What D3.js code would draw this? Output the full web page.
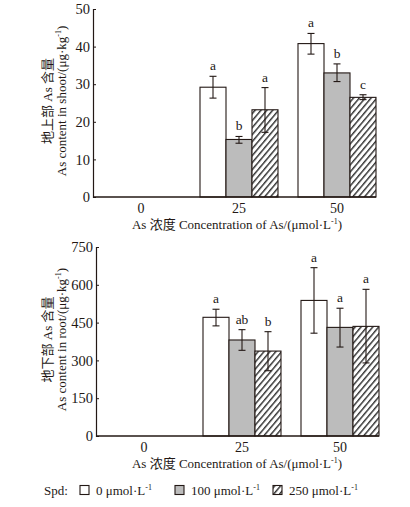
<!DOCTYPE html>
<html><head><meta charset="utf-8">
<script src="https://cdn.jsdelivr.net/npm/d3@7"></script>
<style>
body{margin:0;background:#fff;}
text{font-family:"Liberation Serif","Times New Roman","Noto Sans CJK SC",serif;fill:#231815;}
</style></head>
<body><svg id="c" width="410" height="507"></svg>
<script>
const categories = ["0","25","50"];
const seriesNames = ["0 μmol·L⁻¹","100 μmol·L⁻¹","250 μmol·L⁻¹"];
// shoot (top panel)
const shootVals = [[0,0,0],[29.2,15.3,23.2],[40.8,33.0,26.5]];
const shootErrLo = [[0,0,0],[26.3,14.3,17.2],[38.0,30.7,25.9]];
const shootErrHi = [[0,0,0],[32.1,16.1,29.1],[43.5,35.4,27.2]];
const shootLetters = [["","",""],["a","b","a"],["a","b","c"]];
const shootTicks = [0,10,20,30,40,50];
// root (bottom panel)
const rootVals = [[0,0,0],[471,381,337],[538,431,435]];
const rootErrLo = [[0,0,0],[437,340,259],[408,353,290]];
const rootErrHi = [[0,0,0],[503,422,414],[668,507,582]];
const rootLetters = [["","",""],["a","ab","b"],["a","a","a"]];
const rootTicks = [0,150,300,450,600,750];

const svg = d3.select("#c");
const defs = svg.append("defs");
const pat = defs.append("pattern").attr("id","hatch").attr("patternUnits","userSpaceOnUse")
  .attr("width",4.5).attr("height",4.5).attr("patternTransform","rotate(40)");
pat.append("rect").attr("width",4.5).attr("height",4.5).attr("fill","#fff");
pat.append("line").attr("x1",0.75).attr("y1",-1).attr("x2",0.75).attr("y2",6).attr("stroke","#1a1a1a").attr("stroke-width",1.3);

const fills = ["#ffffff","#bcbcbc","url(#hatch)"];

function panel(o){
  const g = svg.append("g");
  const y = d3.scaleLinear().domain([0,o.ticks[o.ticks.length-1]]).range([o.y0,o.y1]);
  const x = d3.scaleBand().domain(categories).range([o.x0+9,o.x1]).paddingInner(20/98).paddingOuter(0);
  const xs = d3.scaleBand().domain(d3.range(3)).range([0,x.bandwidth()]);
  // bars
  categories.forEach((c,i)=>{
    d3.range(3).forEach(j=>{
      const v=o.vals[i][j];
      if(v<=0) return;
      const bx=x(c)+xs(j), bw=xs.bandwidth();
      g.append("rect").attr("x",bx).attr("y",y(v)).attr("width",bw).attr("height",y(0)-y(v))
        .attr("fill",fills[j]).attr("stroke","#231815").attr("stroke-width",1.1);
      const cx=bx+bw/2;
      g.append("line").attr("x1",cx).attr("x2",cx).attr("y1",y(o.lo[i][j])).attr("y2",y(o.hi[i][j])).attr("stroke","#231815").attr("stroke-width",1.1);
      [o.lo[i][j],o.hi[i][j]].forEach(e=>g.append("line").attr("x1",cx-3.5).attr("x2",cx+3.5).attr("y1",y(e)).attr("y2",y(e)).attr("stroke","#231815").attr("stroke-width",1.1));
      g.append("text").attr("x",cx).attr("y",y(o.hi[i][j])-6).attr("text-anchor","middle").attr("font-size",13.5).text(o.letters[i][j]);
    });
  });
  // y axis
  const ya = d3.axisLeft(y).tickValues(o.ticks).tickSize(-3).tickPadding(3);
  const yg = g.append("g").attr("transform",`translate(${o.x0},0)`).call(ya);
  yg.select(".domain").attr("stroke","#231815").attr("stroke-width",1.2);
  yg.selectAll("line").attr("stroke","#231815");
  yg.selectAll("text").attr("font-size",14.5).attr("fill","#231815").style("font-family","Liberation Serif,serif");
  // x axis
  g.append("line").attr("x1",o.x0).attr("x2",o.x1).attr("y1",y(0)).attr("y2",y(0)).attr("stroke","#231815").attr("stroke-width",1.3);
  categories.forEach(c=>g.append("text").attr("x",x(c)+x.bandwidth()/2).attr("y",y(0)+16).attr("text-anchor","middle").attr("font-size",14).text(c));
  // x title
  const xt = g.append("text").attr("x",237).attr("y",y(0)+32).attr("text-anchor","middle").attr("font-size",13);
  xt.append("tspan").text("As 浓度 Concentration of As/(μmol·L");
  xt.append("tspan").attr("dy",-5).attr("font-size",8).text("-1");
  xt.append("tspan").attr("dy",5).text(")");
  // y title
  const cy=(o.y0+o.y1)/2-2;
  g.append("text").attr("transform",`translate(52,${cy}) rotate(-90)`).attr("text-anchor","middle").attr("font-size",13).text(o.cn);
  const et = g.append("text").attr("transform",`translate(66,${cy}) rotate(-90)`).attr("text-anchor","middle").attr("font-size",13);
  et.append("tspan").text(o.en);
  et.append("tspan").attr("dy",-5).attr("font-size",8).text("-1");
  et.append("tspan").attr("dy",5).text(")");
}

panel({x0:93,x1:376,y0:197,y1:9,ticks:shootTicks,vals:shootVals,lo:shootErrLo,hi:shootErrHi,letters:shootLetters,
  cn:"地上部 As 含量",en:"As content in shoot/(μg·kg"});
panel({x0:96,x1:379,y0:436,y1:247,ticks:rootTicks,vals:rootVals,lo:rootErrLo,hi:rootErrHi,letters:rootLetters,
  cn:"地下部 As 含量",en:"As content in root/(μg·kg"});

// legend
const lg = svg.append("g");
const ly = 490;
lg.append("text").attr("x",44).attr("y",ly+4.5).attr("font-size",13).text("Spd:");
const lx = [80,175,273];
seriesNames.forEach((s,i)=>{
  lg.append("rect").attr("x",lx[i]).attr("y",ly-4.5).attr("width",9).attr("height",9).attr("fill",fills[i]).attr("stroke","#231815").attr("stroke-width",1.1);
  const t = lg.append("text").attr("x",lx[i]+16).attr("y",ly+4.5).attr("font-size",13);
  t.append("tspan").text(s.replace("⁻¹",""));
  t.append("tspan").attr("dy",-5).attr("font-size",8).text("-1");
});
</script></body></html>
